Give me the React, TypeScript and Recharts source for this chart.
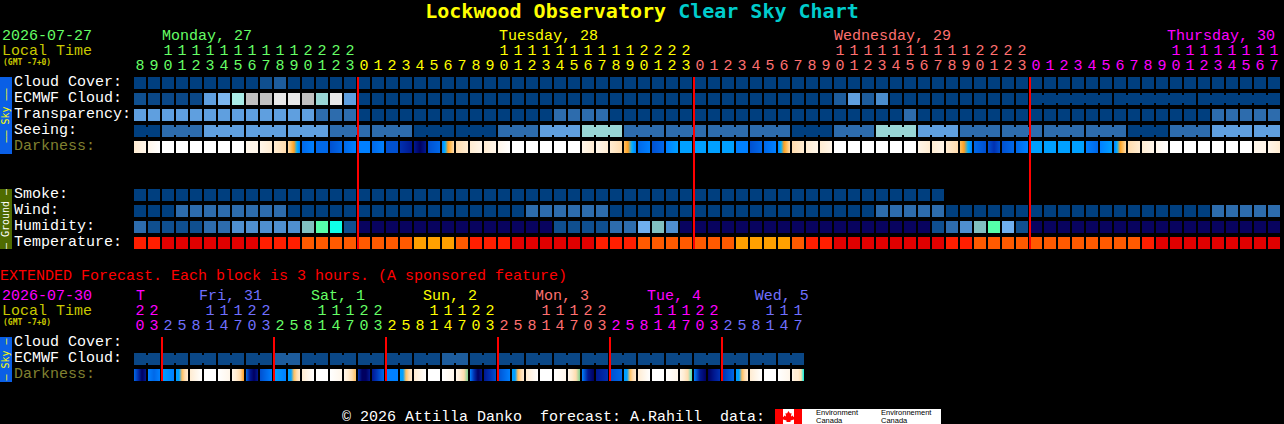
import { ReferenceLine, Scatter, ScatterChart, XAxis, YAxis } from "recharts";

const FONT = "'Liberation Mono', monospace";
const BOLD_FONT = "'DejaVu Sans Mono', monospace";
const COL_W = 14;
const CELL = 12;
const ROW_H = 16;

// colour tables, indexed by the levels in the rows below
const SKY = ["#003f7f", "#0a4786", "#0f4f8f", "#1d5c9c", "#2d6cad", "#4a8ccc", "#5f9fdf", "#7cb6ee", "#99d6d6", "#a9ece8", "#c0c0c0", "#e8e8e8", "#ffffff"];
const HUM = ["#08035f", "#0f4f8f", "#2d6cad", "#4f8fd0", "#6fafef", "#80c0c0", "#55ffaa", "#0fffe8"];
const TEMP = ["#e00000", "#ff1e00", "#ff5a00", "#ffa000"];
const DARK = ["#ffffff", "#fff6ea", "#ffecd2", "#ffdcae", "#ffc060", "#ff9f20", "#00b0ff", "#00a0ff", "#0080ff", "#0068e8", "#0050d0", "#0030b0", "#001890", "#000060", "#80d090", "#40e0c0", "#00f0e0"];

// 1 hour forecast
const HOURS = [8, 9, 10, 11, 12, 13, 14, 15, 16, 17, 18, 19, 20, 21, 22, 23,
  0, 1, 2, 3, 4, 5, 6, 7, 8, 9, 10, 11, 12, 13, 14, 15, 16, 17, 18, 19, 20, 21, 22, 23,
  0, 1, 2, 3, 4, 5, 6, 7, 8, 9, 10, 11, 12, 13, 14, 15, 16, 17, 18, 19, 20, 21, 22, 23,
  0, 1, 2, 3, 4, 5, 6, 7, 8, 9, 10, 11, 12, 13, 14, 15, 16, 17];
const DAY_STARTS = [0, 16, 40, 64];
const DAY_COLORS = ["#66ff66", "#ffff00", "#ff7070", "#ff00ff"];
const DAY_LABELS = ["Monday, 27", "Tuesday, 28", "Wednesday, 29", "Thursday, 30"];
const DAY_TICKS = [1.86, 25.93, 49.86, 73.64];
const ROW_LABELS = ["Cloud Cover:", "ECMWF Cloud:", "Transparency:", "Seeing:", "Darkness:", "", "", "Smoke:", "Wind:", "Humidity:", "Temperature:"];

const cloud = [0, 0, 0, 0, 0, 0, 0, 0, 0, 2, 3, 0, 0, 0, 0, 0, 0, 0, 0, 0, 0, 0, 0, 0, 0, 0, 0, 0, 0, 0, 0, 0, 0, 0, 0, 0, 0, 0, 0, 0, 0, 0, 0, 0, 0, 0, 0, 0, 0, 0, 0, 0, 0, 0, 0, 0, 0, 0, 0, 0, 0, 0, 0, 0, 0, 0, 0, 0, 0, 0, 0, 0, 0, 0, 0, 0, 0, 0, 0, 0, 0, 0];
const ecmwf = [2, 1, 1, 1, 1, 6, 7, 9, 10, 10, 11, 11, 10, 8, 11, 6, 0, 0, 0, 0, 0, 0, 0, 0, 0, 0, 0, 0, 0, 0, 0, 0, 0, 0, 0, 0, 0, 0, 0, 0, 0, 0, 0, 0, 0, 0, 0, 0, 0, 0, 3, 6, 3, 5, 0, 0, 0, 0, 0, 0, 0, 0, 0, 0, 0, 0, 0, 0, 0, 0, 0, 0, 0, 0, 0, 0, 0, 0, 0, 0, 0, 0];
const ecmwfBlocks = [...new Array(64).fill(1), 6, 6, 6];
const transparency = [6, 6, 6, 6, 6, 6, 6, 6, 6, 6, 6, 6, 6, 4, 4, 4, 0, 0, 0, 0, 0, 0, 0, 0, 0, 0, 0, 0, 0, 0, 4, 4, 4, 4, 0, 0, 0, 0, 0, 0, 0, 0, 0, 0, 0, 0, 0, 0, 0, 0, 0, 0, 0, 0, 0, 4, 0, 0, 0, 0, 0, 0, 0, 0, 0, 0, 0, 0, 0, 0, 0, 0, 0, 0, 0, 0, 0, 4, 4, 4, 4, 4];
const seeing = [0, 0, 4, 4, 4, 6, 6, 6, 6, 6, 6, 6, 6, 6, 4, 4, 4, 4, 4, 4, 0, 0, 0, 0, 0, 0, 4, 4, 4, 6, 6, 6, 8, 8, 8, 4, 4, 4, 4, 4, 4, 4, 4, 4, 4, 4, 4, 0, 0, 0, 4, 4, 4, 8, 8, 8, 6, 6, 6, 4, 4, 4, 4, 4, 4, 4, 4, 4, 4, 4, 4, 0, 0, 0, 4, 4, 4, 6, 6, 6, 6, 6];
const seeingBlocks = [2, 3, 3, 3, 3, 3, 3, 3, 3, 3, 3, 3, 3, 3, 3, 3, 3, 3, 3, 3, 3, 3, 3, 3, 3, 3, 3, 2];
const darkness = [[2, 1], [1, 0], [0], [0], [0], [0], [0], [0], [1], [1, 2], [2, 3], [3, 4, 5, 6, 8],
  [9, 8], [9], [10, 9], [9, 8], [8], [9, 8], [10], [11, 12], [12, 13, 12], [10, 9], [8, 6, 5, 4, 3], [3, 2],
  [2, 1], [2, 1], [1, 0], [0], [0], [0], [0], [0], [1, 2], [1, 2], [2, 3], [4, 5, 6, 8],
  [9, 8], [10, 9], [8, 7], [7], [7], [7], [7], [8], [10, 9], [9, 8], [8, 6, 5, 4, 3], [3, 2],
  [2, 1], [2, 1], [0], [0], [0], [0], [0], [0], [1, 2], [2, 1], [2, 3], [4, 5, 6, 8],
  [9, 10], [10, 11, 10], [10, 9], [9, 8], [7], [7], [7], [7], [8, 9], [8, 7], [8, 6, 5, 4, 3], [3, 2],
  [2, 1], [1, 0], [0], [0], [0], [0], [0], [0], [1], [1, 2]];
const smoke = [0, 0, 0, 0, 0, 0, 0, 0, 0, 0, 0, 0, 0, 0, 0, 0, 0, 0, 0, 0, 0, 0, 0, 0, 0, 0, 0, 0, 0, 0, 0, 0, 0, 0, 0, 0, 0, 0, 0, 0, 0, 0, 0, 0, 0, 0, 0, 0, 0, 0, 0, 0, 0, 0, 0, 0, 0, 0];
const wind = [0, 0, 0, 4, 4, 4, 4, 4, 4, 4, 4, 0, 0, 0, 0, 0, 0, 0, 0, 0, 0, 0, 0, 0, 0, 0, 0, 0, 4, 4, 4, 4, 4, 4, 0, 0, 0, 0, 0, 0, 0, 0, 0, 0, 0, 0, 0, 0, 0, 0, 0, 0, 0, 4, 4, 4, 4, 4, 0, 0, 0, 0, 0, 0, 0, 0, 0, 0, 0, 0, 0, 0, 0, 0, 0, 0, 0, 4, 4, 4, 4, 4];
const humidity = [2, 1, 1, 1, 1, 2, 2, 3, 3, 3, 3, 3, 5, 6, 7, 1, 0, 0, 0, 0, 0, 0, 0, 0, 0, 0, 0, 0, 0, 0, 1, 1, 1, 1, 2, 2, 4, 5, 3, 0, 0, 0, 0, 0, 0, 0, 0, 0, 0, 0, 0, 0, 0, 0, 0, 0, 0, 1, 2, 3, 5, 6, 4, 1, 0, 0, 0, 0, 0, 0, 0, 0, 0, 0, 0, 0, 0, 0, 0, 0, 0, 0];
const temperature = [1, 1, 0, 0, 0, 0, 0, 0, 0, 1, 1, 1, 2, 2, 2, 2, 2, 2, 2, 2, 3, 3, 3, 2, 1, 1, 1, 0, 0, 0, 0, 0, 0, 1, 1, 1, 2, 2, 2, 2, 2, 2, 2, 3, 3, 3, 3, 2, 1, 1, 0, 0, 0, 0, 0, 0, 0, 0, 1, 1, 2, 2, 2, 2, 2, 2, 2, 2, 2, 2, 2, 2, 1, 0, 0, 0, 0, 0, 0, 0, 0, 0];

// extended forecast, each block is 3 hours
const EXT_HOURS = [20, 23, 2, 5, 8, 11, 14, 17, 20, 23, 2, 5, 8, 11, 14, 17, 20, 23, 2, 5, 8, 11, 14, 17, 20, 23, 2, 5, 8, 11, 14, 17, 20, 23, 2, 5, 8, 11, 14, 17, 20, 23, 2, 5, 8, 11, 14, 17];
const EXT_DAY_STARTS = [0, 2, 10, 18, 26, 34, 42];
const EXT_DAY_COLORS = ["#ff00ff", "#7070ff", "#66ff66", "#ffff00", "#ff7070", "#ff00ff", "#7070ff"];
const EXT_DAY_LABELS = ["T", "Fri, 31", "Sat, 1", "Sun, 2", "Mon, 3", "Tue, 4", "Wed, 5"];
const EXT_DAY_TICKS = [0, 4.5, 12.5, 20.5, 28.5, 36.5, 44.2];
const EXT_ROW_LABELS = ["Cloud Cover:", "ECMWF Cloud:", "Darkness:"];
const extEcmwf = [1, 1, 1, 1, 1, 1, 1, 1, 1, 1, 3, 3, 1, 1, 1, 1, 1, 1, 1, 1, 1, 1, 3, 3, 1, 1, 1, 1, 1, 1, 1, 1, 1, 1, 1, 1, 1, 1, 1, 1, 1, 1, 1, 1, 1, 1, 1, 1];
const extEcmwfBlocks = [2, 2, 2, 2, 2, 2, 2, 2, 2, 2, 2, 2, 2, 2, 2, 2, 2, 2, 2, 2, 2, 2, 2, 2];
const extDarkness = [[9, 11, 13, 12], [8, 9, 8], [7, 8], [7, 7, 4, 3, 2], [2, 0], [0], [0, 1], [1, 2, 3, 5],
  [9, 12, 13, 12], [10, 9, 8], [7, 8], [7, 7, 4, 3, 2], [2, 0], [0], [0, 1], [1, 2, 3, 4],
  [11, 13, 13, 12], [12, 11, 10, 9], [8], [7, 7, 4, 3, 2], [2, 0], [0], [0, 1], [1, 2, 3, 14],
  [8, 11, 13, 12], [12, 11, 10], [10, 9, 8], [7, 7, 4, 3, 2], [2, 0], [0], [0, 1], [1, 2, 3, 14],
  [8, 12, 13], [12, 11], [10, 9], [7, 7, 4, 3, 2], [2, 0], [0], [0, 1], [1, 2, 3, 15],
  [8, 12, 13], [13, 12, 11], [11, 9], [7, 7, 4, 3, 2], [2, 0], [0], [0, 1], [1, 2, 2, 3, 16]];

type Cell = { x: number; y: number; fills: string[]; join: boolean; id: string };

function joins(blocks: number[] | undefined, count: number) {
  const out = new Array(count).fill(false);
  if (!blocks) return out;
  let start = 0;
  for (const size of blocks) {
    for (let i = start; i < start + size - 1; i++) out[i] = true;
    start += size;
  }
  return out;
}

function row(id: string, rowIndex: number, values: number[], palette: string[], blocks?: number[]): Cell[] {
  const joined = joins(blocks, values.length);
  return values.map((v, i) => ({ x: i + 0.5, y: rowIndex + 0.5, fills: [palette[v]], join: joined[i], id: `${id}-${i}` }));
}

function darkRow(id: string, rowIndex: number, values: number[][]): Cell[] {
  return values.map((stops, i) => ({ x: i + 0.5, y: rowIndex + 0.5, fills: stops.map((s) => DARK[s]), join: false, id: `${id}-${i}` }));
}

const topCells = [
  ...row("cloud", 0, cloud, SKY),
  ...row("ecmwf", 1, ecmwf, SKY, ecmwfBlocks),
  ...row("transp", 2, transparency, SKY),
  ...row("seeing", 3, seeing, SKY, seeingBlocks),
  ...darkRow("dark", 4, darkness),
  ...row("smoke", 7, smoke, SKY),
  ...row("wind", 8, wind, SKY),
  ...row("hum", 9, humidity, HUM),
  ...row("temp", 10, temperature, TEMP),
];

const extCells = [
  ...row("xecmwf", 1, extEcmwf, SKY, extEcmwfBlocks),
  ...darkRow("xdark", 2, extDarkness),
];

function CellShape(props: any) {
  const { cx, cy, payload } = props;
  const left = cx - COL_W / 2;
  const top = cy - ROW_H / 2;
  const fills: string[] = payload.fills;
  const many = fills.length > 1;
  return (
    <g>
      {many && (
        <defs>
          <linearGradient id={payload.id} x1="0" y1="0" x2="1" y2="0">
            {fills.map((c, i) => (
              <stop key={i} offset={i / (fills.length - 1)} stopColor={c} />
            ))}
          </linearGradient>
        </defs>
      )}
      <rect x={left} y={top} width={CELL} height={CELL} fill={many ? `url(#${payload.id})` : fills[0]} />
      {payload.join && <rect x={left + CELL} y={top + 2} width={COL_W - CELL} height={CELL - 4} fill={fills[0]} />}
    </g>
  );
}

function dayColor(starts: number[], colors: string[], col: number) {
  let c = colors[0];
  starts.forEach((s, i) => {
    if (col >= s) c = colors[i];
  });
  return c;
}

function hourTick(hours: number[], starts: number[], colors: string[]) {
  return (props: any) => {
    const col = Math.floor(props.payload.value);
    const h = hours[col];
    const fill = dayColor(starts, colors, col);
    return (
      <g fontFamily={FONT} fontSize={15} fill={fill} textAnchor="middle">
        {h >= 10 && (
          <text x={props.x - 1} y={props.y - 22}>
            {Math.floor(h / 10)}
          </text>
        )}
        <text x={props.x - 1} y={props.y - 7}>
          {h % 10}
        </text>
      </g>
    );
  };
}

function dayTick(ticks: number[], labels: string[], colors: string[]) {
  return (props: any) => {
    const i = ticks.indexOf(props.payload.value);
    return (
      <text x={props.x + 2} y={props.y - 7} fontFamily={FONT} fontSize={15} fill={colors[i]}>
        {labels[i]}
      </text>
    );
  };
}

function rowTick(labels: string[]) {
  return (props: any) => {
    const label = labels[Math.floor(props.payload.value)];
    return (
      <text x={14} y={props.y + 1} fontFamily={FONT} fontSize={15} fill={label === "Darkness:" ? "#808030" : "#ffffff"}>
        {label}
      </text>
    );
  };
}

function SideBand({ y, h, fill, color, text }: { y: number; h: number; fill: string; color: string; text: string }) {
  const mid = y + h / 2;
  return (
    <g>
      <rect x={0} y={y} width={12} height={h} fill={fill} />
      <text x={8.5} y={mid} transform={`rotate(-90 8.5 ${mid})`} textAnchor="middle" fontFamily={BOLD_FONT} fontSize={10} fill={color} xmlSpace="preserve">
        {text}
      </text>
    </g>
  );
}

function Header({ date, y, color }: { date: string; y: number; color: string }) {
  return (
    <g fontFamily={FONT} fontSize={15}>
      <text x={2} y={y} fill={color}>{date}</text>
      <text x={2} y={y + 15} fill="#c8c800">Local Time</text>
      <text x={3} y={y + 25.5} fill="#c8c800" fontFamily={BOLD_FONT} fontSize={8} fontWeight="bold">(GMT -7+0)</text>
    </g>
  );
}

function Overlay() {
  return (
    <svg width={1284} height={424} style={{ position: "absolute", left: 0, top: 0 }}>
      <text x={642} y={18} textAnchor="middle" fontFamily={BOLD_FONT} fontSize={20} fontWeight="bold" xmlSpace="preserve">
        <tspan fill="#ffff00">Lockwood Observatory </tspan>
        <tspan fill="#00cccc">Clear Sky Chart</tspan>
      </text>
      <Header date="2026-07-27" y={39.5} color="#66ff66" />
      <Header date="2026-07-30" y={299.5} color="#ff00ff" />
      <SideBand y={77} h={77} fill="#0a5fe6" color="#ffff00" text="–– Sky ––" />
      <SideBand y={189} h={60} fill="#4f6b00" color="#ffffff" text="– Ground –" />
      <SideBand y={337} h={45} fill="#0a5fe6" color="#ffff00" text="– Sky –" />
      <text x={0} y={280} fontFamily={FONT} fontSize={15} fill="#ff0000">
        EXTENDED Forecast. Each block is 3 hours. (A sponsored feature)
      </text>
      <text x={342} y={420.5} fontFamily={FONT} fontSize={15} fill="#ffffff" xmlSpace="preserve">
        © 2026 Attilla Danko  forecast: A.Rahill  data:
      </text>
      <rect x={775} y={409} width={166} height={15} fill="#ffffff" />
      <rect x={775} y={409} width={8} height={15} fill="#ff0000" />
      <rect x={794} y={409} width={8} height={15} fill="#ff0000" />
      <path d="M788.5 411 l1.5 2.5 1.5 -.5 -.5 3.5 2 -1 .3 1.5 1.7 -.2 -1 2.7 -3.5 1 0 1.5 h-4 l0 -1.5 -3.5 -1 -1 -2.7 1.7 .2 .3 -1.5 2 1 -.5 -3.5 1.5 .5z" fill="#ff0000" />
      <g fontFamily="'Liberation Sans', sans-serif" fontSize={7.5} fill="#000000">
        <text x={816} y={415}>Environment</text>
        <text x={816} y={422.5}>Canada</text>
        <text x={881} y={415}>Environnement</text>
        <text x={881} y={422.5}>Canada</text>
      </g>
    </svg>
  );
}

export default function App() {
  const topCols = HOURS.map((_, i) => i + 0.5);
  const extCols = EXT_HOURS.map((_, i) => i + 0.5);
  return (
    <div style={{ position: "relative", width: 1284, height: 424, background: "#000", overflow: "hidden" }}>
      <style>{"html,body{margin:0;background:#000;overflow:hidden}"}</style>
      <Overlay />
      <div style={{ position: "absolute", left: 0, top: 0 }}>
        <ScatterChart width={1284} height={253} margin={{ top: 0, right: 2, bottom: 0, left: 0 }}>
          <XAxis xAxisId="cols" orientation="top" type="number" dataKey="x" domain={[0, HOURS.length]} allowDataOverflow ticks={topCols} interval={0} height={30} tickSize={0} tickMargin={0} tickLine={false} axisLine={false} tick={hourTick(HOURS, DAY_STARTS, DAY_COLORS)} />
          <XAxis xAxisId="days" orientation="top" type="number" dataKey="x" domain={[0, HOURS.length]} allowDataOverflow ticks={DAY_TICKS} interval={0} height={47} tickSize={0} tickMargin={0} tickLine={false} axisLine={false} tick={dayTick(DAY_TICKS, DAY_LABELS, DAY_COLORS)} />
          <YAxis type="number" dataKey="y" reversed domain={[0, ROW_LABELS.length]} ticks={ROW_LABELS.map((_, i) => i + 0.5)} interval={0} width={134} tickSize={0} tickMargin={0} tickLine={false} axisLine={false} tick={rowTick(ROW_LABELS)} />
          <Scatter xAxisId="cols" data={topCells} shape={CellShape} isAnimationActive={false} />
          {DAY_STARTS.slice(1).map((d) => (
            <ReferenceLine key={d} xAxisId="cols" segment={[{ x: d, y: 0 }, { x: d, y: 10.75 }]} stroke="#ff0000" strokeWidth={2} zIndex={2000} />
          ))}
        </ScatterChart>
      </div>
      <div style={{ position: "absolute", left: 0, top: 285 }}>
        <ScatterChart width={1284} height={100} margin={{ top: 0, right: 478, bottom: 0, left: 0 }}>
          <XAxis xAxisId="cols" orientation="top" type="number" dataKey="x" domain={[0, EXT_HOURS.length]} allowDataOverflow ticks={extCols} interval={0} height={30} tickSize={0} tickMargin={0} tickLine={false} axisLine={false} tick={hourTick(EXT_HOURS, EXT_DAY_STARTS, EXT_DAY_COLORS)} />
          <XAxis xAxisId="days" orientation="top" type="number" dataKey="x" domain={[0, EXT_HOURS.length]} allowDataOverflow ticks={EXT_DAY_TICKS} interval={0} height={22} tickSize={0} tickMargin={0} tickLine={false} axisLine={false} tick={dayTick(EXT_DAY_TICKS, EXT_DAY_LABELS, EXT_DAY_COLORS)} />
          <YAxis type="number" dataKey="y" reversed domain={[0, EXT_ROW_LABELS.length]} ticks={EXT_ROW_LABELS.map((_, i) => i + 0.5)} interval={0} width={134} tickSize={0} tickMargin={0} tickLine={false} axisLine={false} tick={rowTick(EXT_ROW_LABELS)} />
          <Scatter xAxisId="cols" data={extCells} shape={CellShape} isAnimationActive={false} />
          {EXT_DAY_STARTS.slice(1).map((d) => (
            <ReferenceLine key={d} xAxisId="cols" segment={[{ x: d, y: 0 }, { x: d, y: 2.75 }]} stroke="#ff0000" strokeWidth={2} zIndex={2000} />
          ))}
        </ScatterChart>
      </div>
    </div>
  );
}
